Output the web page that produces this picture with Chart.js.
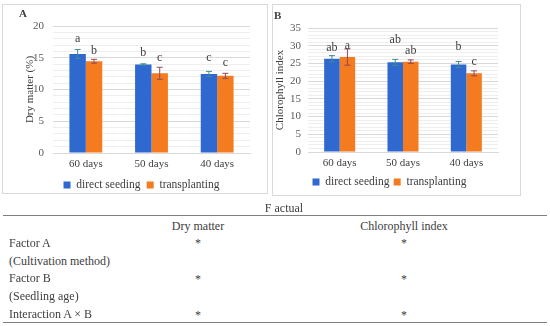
<!DOCTYPE html>
<html>
<head>
<meta charset="utf-8">
<script src="https://cdn.jsdelivr.net/npm/chart.js@4.4.0/dist/chart.umd.min.js"></script>
<style>
  body { margin: 0; width: 550px; height: 326px; background: #fff; position: relative; overflow: hidden; font-family: "Liberation Serif", serif; }
  .box { position: absolute; border: 1px solid #d9d9d9; box-sizing: border-box; }
  .box canvas { position: absolute; left: 0; top: 0; }
  .lbl { position: absolute; font-size: 11px; font-weight: bold; color: #404040; }
  .t { position: absolute; font-size: 12px; line-height: 14px; color: #404040; white-space: nowrap; transform: translateY(-50%); }
  .c { transform: translate(-50%, -50%); }
  .rule { position: absolute; left: 3px; width: 544px; height: 0; border-top: 1.5px solid #7f7f7f; }
</style>
</head>
<body>

<div class="box" style="left:2px; top:4px; width:266px; height:190px;">
  <canvas id="chartA" width="264" height="188"></canvas>
</div>
<div class="lbl" style="left:19px; top:7px;">A</div>

<div class="box" style="left:272px; top:4px; width:249px; height:192px;">
  <canvas id="chartB" width="247" height="190"></canvas>
</div>
<div class="lbl" style="left:274px; top:9px;">B</div>

<div class="t c" style="left:284px; top:208px;">F actual</div>
<div class="rule" style="top:215px;"></div>
<div class="t c" style="left:198px; top:226px;">Dry matter</div>
<div class="t c" style="left:404px; top:226px;">Chlorophyll index</div>
<div class="t" style="left:9px; top:243px;">Factor A</div>
<div class="t" style="left:9px; top:261px;">(Cultivation method)</div>
<div class="t" style="left:9px; top:278px;">Factor B</div>
<div class="t" style="left:9px; top:296px;">(Seedling age)</div>
<div class="t" style="left:9px; top:314px;">Interaction A × B</div>
<div class="t c" style="left:198px; top:243px;">*</div>
<div class="t c" style="left:404px; top:243px;">*</div>
<div class="t c" style="left:198px; top:279px;">*</div>
<div class="t c" style="left:404px; top:279px;">*</div>
<div class="t c" style="left:198px; top:315px;">*</div>
<div class="t c" style="left:404px; top:315px;">*</div>
<div class="rule" style="top:322px;"></div>

<script>
// seedling age groups and series
var days = ['60 days', '50 days', '40 days'];
var seriesNames = ['direct seeding', 'transplanting'];

// A: dry matter (%)
var dryDirect = [15.6, 13.95, 12.45];
var dryTrans = [14.45, 12.55, 12.15];
var dryDirectErr = [0.7, 0.1, 0.4];
var dryTransErr = [0.3, 0.95, 0.4];
var dryDirectLetters = ['a', 'b', 'c'];
var dryTransLetters = ['b', 'c', 'c'];
var dryDirectLetterAt = [17.95, 15.75, 14.95];
var dryTransLetterAt = [16.05, 14.95, 14.15];

// B: chlorophyll index
var chlDirect = [26.3, 25.3, 24.7];
var chlTrans = [26.8, 25.5, 22.2];
var chlDirectErr = [0.9, 0.85, 0.85];
var chlTransErr = [2.3, 0.5, 0.7];
var chlDirectLetters = ['ab', 'ab', 'b'];
var chlTransLetters = ['a', 'ab', 'c'];
var chlDirectLetterAt = [29.35, 31.6, 29.6];
var chlTransLetterAt = [29.9, 28.5, 25.4];

var blue = '#2f68cf';
var orange = '#f47b20';
var serif = '"Liberation Serif", "Times New Roman", serif';

Chart.defaults.font.family = serif;
Chart.defaults.color = '#595959';

// error bars + significance letters
var errorBars = {
  id: 'errorBars',
  afterDatasetsDraw: function(chart) {
    var ctx = chart.ctx;
    var y = chart.scales.y;
    chart.data.datasets.forEach(function(ds, i) {
      var meta = chart.getDatasetMeta(i);
      meta.data.forEach(function(bar, j) {
        var v = ds.data[j], e = ds.err[j];
        var top = y.getPixelForValue(v + e);
        var bot = y.getPixelForValue(v - e);
        ctx.save();
        ctx.strokeStyle = ds.errColor;
        ctx.lineWidth = 1;
        ctx.beginPath();
        ctx.moveTo(bar.x, top); ctx.lineTo(bar.x, bot);
        ctx.moveTo(bar.x - 3, top); ctx.lineTo(bar.x + 3, top);
        ctx.moveTo(bar.x - 3, bot); ctx.lineTo(bar.x + 3, bot);
        ctx.stroke();
        ctx.fillStyle = '#404040';
        ctx.font = '12px ' + serif;
        ctx.textAlign = 'center';
        ctx.textBaseline = 'middle';
        ctx.fillText(ds.letters[j], bar.x, y.getPixelForValue(ds.letterAt[j]));
        ctx.restore();
      });
    });
  }
};

function makeChart(id, cfg) {
  var ctx = document.getElementById(id).getContext('2d');
  return new Chart(ctx, {
    type: 'bar',
    data: {
      labels: days,
      datasets: [{
        label: seriesNames[0],
        data: cfg.direct,
        err: cfg.directErr,
        letters: cfg.directLetters,
        letterAt: cfg.directLetterAt,
        errColor: '#3f8c8f',
        backgroundColor: blue,
        categoryPercentage: cfg.catPct,
        barPercentage: 1.0
      }, {
        label: seriesNames[1],
        data: cfg.trans,
        err: cfg.transErr,
        letters: cfg.transLetters,
        letterAt: cfg.transLetterAt,
        errColor: '#8e4b5a',
        backgroundColor: orange,
        categoryPercentage: cfg.catPct,
        barPercentage: 1.0
      }]
    },
    options: {
      responsive: false,
      animation: false,
      layout: { padding: cfg.padding },
      plugins: {
        tooltip: { enabled: false },
        legend: {
          position: 'bottom',
          labels: {
            boxWidth: 7,
            boxHeight: 7,
            padding: cfg.legendPad,
            color: '#404040',
            font: { size: 11.5, family: serif }
          }
        }
      },
      scales: {
        x: {
          grid: { display: false, drawTicks: false },
          border: { display: true, color: '#d9d9d9' },
          ticks: { padding: 5, font: { size: 11, family: serif }, color: '#404040' },
          afterFit: function(scale) { scale.height = 20; }
        },
        y: {
          min: 0,
          max: cfg.max,
          border: { display: false },
          grid: {
            drawTicks: false,
            color: function(c) { return c.tick.value % 5 === 0 ? '#d9d9d9' : '#eeeeee'; }
          },
          ticks: {
            stepSize: 1,
            autoSkip: false,
            padding: cfg.tickPad,
            font: { size: 11, family: serif },
            color: '#595959',
            callback: function(v) { return v % 5 === 0 ? v : ''; }
          },
          title: {
            display: true,
            text: cfg.yTitle,
            color: '#404040',
            font: { size: 11, family: serif },
            padding: { top: cfg.titlePad, bottom: 0 }
          },
          afterFit: function(scale) { scale.width = cfg.yWidth; }
        }
      }
    },
    plugins: [errorBars]
  });
}

makeChart('chartA', {
  direct: dryDirect, trans: dryTrans,
  directErr: dryDirectErr, transErr: dryTransErr,
  directLetters: dryDirectLetters, transLetters: dryTransLetters,
  directLetterAt: dryDirectLetterAt, transLetterAt: dryTransLetterAt,
  max: 20, yTitle: 'Dry matter (%)', catPct: 0.5,
  padding: { left: 30, right: 17, top: 21, bottom: -7.75 },
  legendPad: 6.25, tickPad: 9, titlePad: -9.6, yWidth: 20
});

makeChart('chartB', {
  direct: chlDirect, trans: chlTrans,
  directErr: chlDirectErr, transErr: chlTransErr,
  directLetters: chlDirectLetters, transLetters: chlTransLetters,
  directLetterAt: chlDirectLetterAt, transLetterAt: chlTransLetterAt,
  max: 35, yTitle: 'Chlorophyll index', catPct: 0.49,
  padding: { left: 8, right: 22, top: 23, bottom: -2.75 },
  legendPad: 4.25, tickPad: 7, titlePad: -7.6, yWidth: 27
});
</script>
</body>
</html>
